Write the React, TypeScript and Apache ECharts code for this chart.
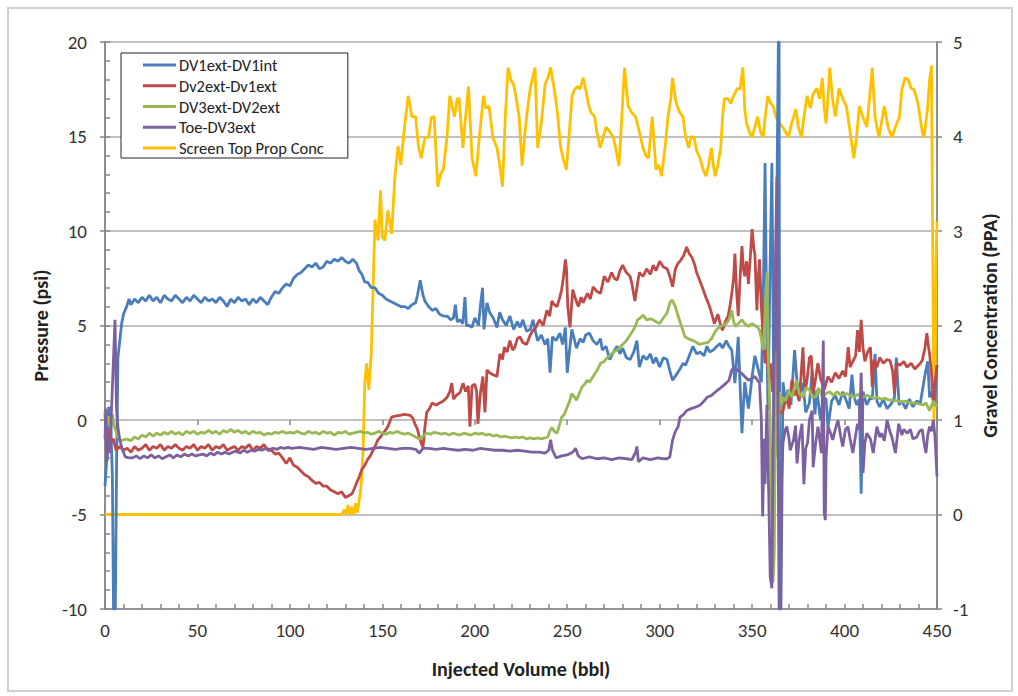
import React, { useEffect, useRef } from "react";
import * as echarts from "echarts";

// ---------- DATA ----------
const seriesNames = ["DV1ext-DV1int", "Dv2ext-Dv1ext", "DV3ext-DV2ext", "Toe-DV3ext", "Screen Top Prop Conc"];
const xTicks = { min: 0, max: 450, interval: 50 };
const leftTicks = { min: -10, max: 20, interval: 5 };
const rightTicks = { min: -1, max: 5, interval: 1 };

const dv1ext_dv1int: [number, number][] = [
  [0,-3.5],[1,-2.0],[2,0.7],[3,0.2],[4,-3],[4.6,-10],[5.6,-10],[6.3,-2],[7,3.3],[8,4.2],[9,5.1],[10,5.6],[11.7,6.0],[13,6.4],[14,6.1],[16,6.4],[18,6.2],[20,6.5],[22,6.3],[24,6.6],[26,6.3],[28,6.5],[30,6.2],[32,6.6],[34,6.4],[36,6.3],[38,6.6],[40,6.4],[42,6.2],[44,6.5],[46,6.3],[48,6.6],[50,6.4],[52,6.2],[54,6.5],[56,6.3],[58,6.4],[60,6.2],[62,6.5],[64,6.3],[66,6.0],[68,6.4],[70,6.2],[72,6.5],[74,6.3],[76,6.4],[78,6.1],[80,6.4],[82,6.2],[84,6.5],[86,6.3],[88,6.1],[90,6.5],[92,6.8],[94,6.7],[96,7.0],[98,7.2],[100,7.1],[102,7.5],[104,7.7],[106,7.8],[108,8.0],[110,8.2],[112,8.1],[114,8.3],[116,8.0],[118,8.1],[120,8.4],[122,8.3],[124,8.5],[126,8.4],[128,8.6],[130,8.4],[132,8.3],[134,8.5],[136,8.3],[137.5,7.9],[139,7.7],[140.5,7.3],[142,7.3],[144,7.0],[146,7.0],[148,6.7],[150,6.6],[152,6.4],[154,6.3],[156,6.2],[158,6.1],[160,6.0],[162,6.0],[164,5.9],[166,6.1],[168,6.2],[169,6.6],[170.5,7.4],[172,6.6],[173,6.3],[175,6.0],[177,5.8],[179,5.9],[181,5.6],[183,5.5],[185,5.5],[187,5.3],[188.5,5.4],[189.5,6.1],[190.5,5.2],[192,5.3],[193.5,5.1],[194.7,6.5],[195.5,5.0],[197,5.0],[198.5,4.9],[200,5.4],[202,5.0],[203,6.0],[204.2,7.0],[205,4.8],[206.6,6.2],[208,5.7],[210,5.4],[212,4.9],[213.5,5.7],[215,5.3],[217,5.0],[219,5.5],[221,4.8],[223,5.2],[224.5,4.9],[226,5.3],[228,4.7],[230,4.8],[231.5,5.3],[233,4.6],[234,4.2],[236,4.5],[238,4.0],[239.5,4.3],[240.7,2.5],[242,4.4],[244,4.2],[246,4.6],[247.5,4.0],[249,4.9],[250,2.5],[251.5,3.9],[252.5,4.8],[254,4.2],[255,3.8],[257,4.3],[258.6,4.1],[260,4.5],[262,4.6],[264,4.2],[266,4.0],[268,4.3],[269,3.7],[271,3.9],[273,3.2],[275,3.6],[277,3.9],[278.5,3.5],[280,3.8],[282,3.3],[284,3.2],[286,3.6],[287.7,4.2],[289,2.8],[291,3.4],[293,3.2],[295,3.5],[296.5,3.0],[298,3.3],[300,2.8],[302,3.3],[304,3.2],[305.5,2.6],[307,2.1],[309,2.4],[311,2.7],[312.6,3.0],[314,2.9],[316,3.4],[318,3.9],[320,3.5],[321.8,3.6],[324,3.4],[325.6,3.9],[327,3.6],[329,3.7],[331,3.9],[332.6,4.05],[334,3.8],[336,4.2],[337.5,3.9],[339,3.7],[340.7,1.95],[342.5,4.4],[344.5,-0.7],[346,2.0],[348,0.6],[350,2.3],[351.5,3.4],[353,2.8],[355,2.0],[356,6],[357,13.6],[358,4],[358.6,0.5],[359.7,8],[360.7,13.6],[361.5,4],[362,-3.3],[363.4,11.7],[364.2,20],[364.6,20],[365,-10],[365.6,-10],[366.7,2.0],[368,1.0],[369.4,1.6],[371,0.8],[373,3.7],[375,1.1],[377.5,1.95],[379,0.4],[381,0.9],[382.5,2.6],[384,0.3],[385,1.6],[387,0.0],[388.5,1.2],[390,1.1],[391,-0.4],[393,1.0],[395,1.3],[397,0.8],[399,1.5],[401,1.0],[402.5,0.6],[404,2.4],[405,1.3],[406.5,0.8],[408,1.1],[409,-3.9],[410,1.5],[412,0.8],[414,1.2],[415,1.1],[416.5,3.5],[417.5,1.0],[419,0.7],[421,1.1],[423,0.6],[425.6,0.9],[427,1.2],[428,3.3],[429.5,0.8],[431,1.0],[433,0.6],[435,1.1],[437,0.7],[439,1.0],[441,0.9],[443.5,2.4],[445,3.1],[446,1.2],[447,1.5],[448.5,0.8],[450,2.9]
];

const dv2ext_dv1ext: [number, number][] = [
  [0,0.4],[1,-1.75],[2,-0.5],[3,-1.2],[4.5,-1.0],[6,-1.6],[8,-1.4],[10,-1.6],[12,-1.5],[14,-1.7],[16,-1.4],[18,-1.6],[20,-1.5],[22,-1.3],[24,-1.6],[26,-1.4],[28,-1.5],[30,-1.3],[32,-1.6],[34,-1.4],[36,-1.5],[38,-1.3],[40,-1.5],[42,-1.6],[44,-1.4],[46,-1.5],[48,-1.3],[50,-1.6],[52,-1.4],[54,-1.5],[56,-1.3],[58,-1.6],[60,-1.4],[62,-1.5],[64,-1.3],[66,-1.6],[68,-1.5],[70,-1.4],[72,-1.6],[74,-1.4],[76,-1.5],[78,-1.3],[80,-1.6],[82,-1.4],[84,-1.5],[86,-1.3],[88,-1.6],[90,-1.6],[92,-1.8],[94,-1.75],[96,-2.0],[98,-2.3],[100,-2.0],[102,-2.4],[104,-2.5],[106,-2.7],[108,-2.9],[110,-3.0],[112,-3.2],[114,-3.35],[116,-3.3],[118,-3.5],[120,-3.5],[122,-3.7],[124,-3.8],[126,-3.9],[128,-3.8],[130,-4.1],[132,-4.0],[133.6,-3.9],[135,-3.6],[136,-3.35],[137.5,-3.0],[139,-2.6],[140.5,-2.4],[142,-2.1],[143.5,-1.9],[145,-1.6],[146.5,-1.3],[147.6,-1.05],[149,-0.9],[150.5,-0.7],[152,-0.5],[153,-0.35],[155,0.15],[157,0.2],[159.5,0.25],[162,0.3],[165,0.25],[166.5,0.1],[167.6,-0.2],[169,-0.5],[170,-0.9],[171,-1.2],[172,-1.45],[173,-0.4],[174,0.4],[175.5,0.6],[177,0.9],[179,0.8],[181,0.9],[183,1.0],[185,1.2],[186.5,1.5],[187.6,1.95],[188.5,1.1],[190,1.3],[192,1.45],[193.7,1.95],[195,1.5],[196.5,1.8],[197.4,-0.35],[198.5,1.8],[200,1.9],[201,1.5],[201.7,-0.2],[203,1.4],[204.4,2.3],[205.5,0.4],[206.6,2.65],[208,2.5],[210,2.4],[212,2.3],[213.6,3.5],[215,3.2],[216,3.85],[217.5,3.6],[219,4.2],[220.5,3.7],[221.7,3.85],[223,4.3],[224.5,4.4],[226,4.1],[228,4.0],[230,4.5],[231.5,4.75],[233,4.9],[235,5.3],[237,5.0],[239,5.8],[240.5,5.5],[241.7,6.3],[243,6.1],[244.5,6.0],[246,6.5],[247,6.9],[248,7.6],[249,8.5],[249.6,8.0],[250.3,6],[251.5,4.9],[253,6.9],[254.5,6.4],[256,6.0],[257.5,6.5],[258.6,6.2],[260,6.5],[261,6.7],[262.5,6.4],[264,7.05],[266,6.8],[268,6.7],[270,7.6],[272,7.3],[274,7.8],[275.5,7.5],[277,7.4],[278.5,7.9],[280,8.2],[282,7.8],[284,7.6],[285,7.2],[286.6,6.3],[288,7.2],[289,7.8],[291,7.6],[293,8.0],[295,7.7],[296.5,8.2],[298,7.9],[300,8.4],[302,8.1],[304,8.0],[305.5,7.6],[307,7.05],[308.5,8.0],[310,8.3],[311,8.4],[313,8.7],[314.6,9.15],[316,8.8],[317.5,8.6],[319,8.2],[320,7.8],[322,7.3],[323.5,6.9],[325,6.5],[327,6.0],[328.5,5.5],[329.6,5.1],[331.5,5.6],[333,5.0],[334,4.75],[335.5,5.2],[337,5.5],[338,6.0],[339,6.7],[340,7.5],[340.7,8.8],[341.5,7.0],[342.5,5.5],[343.5,7.5],[344.5,9.2],[345.3,8.0],[346,7.6],[347,8.4],[348,7.2],[349,8.6],[350,10.1],[351,9.0],[351.5,8.8],[352.6,5.8],[353.3,7.5],[354,8.5],[355,6.0],[356,4.4],[357,3.0],[358,3.7],[359,2.0],[360,3.0],[361,1.5],[362,2.5],[363,0.5],[364,1.8],[365,0.3],[366.7,0.5],[368,1.0],[368.8,1.2],[370,0.6],[371.5,2.1],[373,1.3],[374,1.6],[375.5,1.0],[377.5,3.85],[378.5,1.5],[379.6,2.0],[381,3.3],[382,3.4],[383,1.4],[384.5,2.3],[385.6,3.0],[387,2.2],[389,1.6],[391,2.3],[393,2.0],[395,2.5],[397,2.2],[399,2.6],[400.5,2.3],[402,3.85],[403,2.8],[404.5,3.1],[406,3.4],[407,4.75],[408,3.6],[409,5.3],[410,3.8],[411,3.1],[412.5,3.6],[414,3.85],[415,1.75],[416,3.2],[417.5,2.8],[419,3.3],[421,3.0],[423,3.2],[424.6,3.15],[426,2.6],[427,1.4],[428,3.0],[430,2.9],[432,3.1],[433.7,2.8],[436,3.0],[438,2.7],[439,2.8],[441,3.0],[442,3.15],[443.5,3.8],[444.5,4.6],[445.5,3.8],[446,3.5],[447,2.5],[448,1.0],[449,2.0],[450,2.9]
];

const dv3ext_dv2ext: [number, number][] = [
  [0,0.5],[1,-0.3],[2,0.2],[3,-0.5],[4,0.3],[5,-0.35],[6,-0.6],[7,-0.9],[8.5,-1.1],[10,-1.05],[12,-1.0],[14,-1.1],[16,-0.9],[18,-1.0],[20,-0.8],[22,-0.9],[24,-0.7],[26,-0.85],[28,-0.7],[30,-0.8],[32,-0.65],[34,-0.75],[36,-0.6],[38,-0.75],[40,-0.65],[42,-0.8],[44,-0.6],[46,-0.7],[48,-0.6],[50,-0.75],[52,-0.65],[54,-0.7],[56,-0.55],[58,-0.7],[60,-0.6],[62,-0.75],[64,-0.55],[66,-0.65],[68,-0.5],[70,-0.65],[72,-0.55],[74,-0.7],[76,-0.6],[78,-0.75],[80,-0.6],[82,-0.7],[84,-0.65],[86,-0.8],[88,-0.7],[90,-0.75],[92,-0.65],[94,-0.7],[96,-0.6],[98,-0.7],[100,-0.65],[102,-0.7],[104,-0.6],[106,-0.7],[108,-0.75],[110,-0.6],[112,-0.7],[114,-0.65],[116,-0.75],[118,-0.6],[120,-0.7],[122,-0.65],[124,-0.8],[126,-0.65],[128,-0.7],[130,-0.6],[132,-0.75],[134,-0.7],[136,-0.65],[138,-0.6],[140,-0.7],[142,-0.65],[144,-0.75],[146,-0.7],[148,-0.6],[150,-0.7],[152,-0.75],[154,-0.65],[156,-0.7],[158,-0.6],[160,-0.7],[162,-0.75],[164,-0.7],[166,-0.8],[168,-0.9],[170,-1.0],[172,-0.85],[174,-0.7],[176,-0.75],[178,-0.65],[180,-0.7],[182,-0.75],[184,-0.7],[186,-0.8],[188,-0.7],[190,-0.75],[192,-0.8],[194,-0.7],[196,-0.75],[198,-0.8],[200,-0.7],[202,-0.75],[204,-0.7],[206,-0.8],[208,-0.75],[210,-0.85],[212,-0.8],[214,-0.9],[216,-0.85],[218,-0.9],[220,-0.95],[222,-0.9],[224,-0.95],[226,-0.9],[228,-1.0],[230,-0.95],[232,-1.0],[234,-0.95],[236,-1.0],[238,-0.95],[239.5,-0.9],[240.5,-0.6],[241.7,-0.4],[243,-0.6],[244.5,-0.7],[246,-0.2],[247,0.15],[248.5,0.3],[250,0.7],[251,0.9],[252.5,1.4],[254,1.2],[255,1.05],[256.5,1.4],[258,1.75],[259.5,1.9],[260.7,2.1],[262,2.0],[264,2.3],[266,2.6],[268,3.0],[270,3.1],[271.7,3.3],[273,3.4],[275,3.6],[277,3.7],[278.5,3.85],[280,4.0],[282,4.2],[284,4.5],[285.7,4.75],[287,5.0],[288,5.3],[289.5,5.4],[291,5.55],[293,5.3],[295,5.35],[296.5,5.3],[298,5.2],[300,5.1],[302,5.4],[304,5.66],[305.5,6.2],[306.7,6.35],[308.5,6.0],[310,5.5],[312,4.9],[313.7,4.4],[315.5,4.3],[318,4.2],[320,4.1],[321.5,4.0],[323.5,4.05],[326,4.1],[328,4.3],[329.6,4.6],[331,4.8],[332.6,4.95],[334,5.0],[336,5.1],[337.5,5.3],[339,5.8],[340,5.2],[341,4.95],[342.5,5.1],[344.5,5.3],[346,5.1],[348,4.95],[350,5.1],[351.5,5.0],[353,4.9],[354,4.75],[355,4.3],[356,3.7],[357,5.5],[358,7.8],[358.8,3.0],[359.6,0.5],[360.5,-4],[361.3,-8.6],[362,-7],[362.8,3.7],[363.5,0.5],[364,-2],[364.8,1.5],[366,0.8],[366.7,1.2],[368,1.0],[370,1.55],[371.5,1.2],[374,2.1],[375.5,1.4],[377.5,1.2],[379,1.7],[381,1.6],[382.5,1.2],[384.6,1.25],[386,1.7],[388,1.2],[390,1.4],[392,1.5],[394,1.3],[396,1.5],[398,1.3],[399,1.35],[401,1.4],[403,1.3],[405,1.2],[407,1.35],[408,1.3],[410,1.2],[412,1.3],[414,1.25],[416,1.15],[417.5,1.2],[420,1.1],[422,1.15],[424,1.05],[426.6,1.05],[429,1.0],[431,0.95],[433,1.0],[435.6,0.9],[438,0.9],[440,0.85],[442.7,0.8],[444,0.9],[446,0.5],[448,1.0],[450,0.7]
];

const toe_dv3ext: [number, number][] = [
  [0,-1.0],[0.5,0.6],[1,-2.2],[2,-1.0],[2.7,-1.75],[3.5,0.5],[4.5,3.0],[5.4,5.3],[6.2,0.7],[7,-0.4],[8,-1.05],[9.5,-1.6],[11,-1.95],[13,-2.0],[15,-2.0],[17,-1.9],[19,-2.05],[21,-1.9],[23,-2.0],[25,-1.85],[27,-2.0],[29,-1.9],[31,-2.05],[33,-1.95],[35,-1.85],[37,-2.0],[39,-1.85],[41,-1.95],[43,-1.8],[45,-1.9],[47,-1.8],[49,-1.9],[51,-1.85],[53,-1.8],[55,-1.9],[57,-1.75],[59,-1.85],[61,-1.7],[63,-1.8],[65,-1.7],[67,-1.8],[69,-1.7],[71,-1.65],[73,-1.75],[75,-1.6],[77,-1.7],[79,-1.6],[81,-1.65],[83,-1.55],[85,-1.6],[87,-1.5],[89,-1.55],[91,-1.5],[93,-1.55],[95,-1.45],[97,-1.5],[99,-1.45],[101,-1.5],[105,-1.45],[109,-1.5],[113,-1.55],[117,-1.45],[121,-1.5],[125,-1.55],[129,-1.5],[133,-1.45],[137,-1.5],[141,-1.55],[145,-1.5],[149,-1.45],[153,-1.5],[157,-1.55],[161,-1.5],[165,-1.5],[168,-1.55],[170,-1.75],[172,-1.5],[175,-1.5],[179,-1.55],[183,-1.5],[187,-1.55],[191,-1.6],[195,-1.55],[199,-1.6],[203,-1.5],[207,-1.55],[211,-1.6],[215,-1.6],[219,-1.65],[223,-1.6],[227,-1.65],[231,-1.7],[235,-1.7],[238,-1.75],[240,-1.6],[241,-1.05],[242,-1.6],[244,-2.0],[247,-1.9],[250,-1.85],[253,-1.7],[254.5,-1.5],[256,-1.9],[258,-2.05],[262,-1.95],[266,-2.05],[270,-2.0],[274,-2.1],[278,-2.0],[282,-2.05],[285,-2.1],[287,-1.7],[287.7,-1.4],[288.5,-2.2],[291,-2.0],[295,-2.1],[299,-2.0],[302,-2.05],[304,-2.05],[305.5,-1.95],[307,-1.05],[308.5,-0.6],[310,-0.35],[311,0.15],[313,0.3],[314.6,0.5],[317,0.6],[320,0.7],[322,0.8],[324,1.0],[325.6,1.2],[328,1.3],[331,1.55],[333,1.7],[336,1.95],[337.5,2.1],[339,2.65],[340.7,2.8],[342.5,2.6],[344.5,2.45],[346,2.3],[348,2.1],[350,2.2],[351.5,2.3],[353,2.1],[354,1.95],[355,0],[355.7,-5.1],[356.5,-1],[357,-3.4],[358,0.8],[359,-4],[359.8,-8.3],[360.7,-8.9],[361.3,-2],[362,3.7],[362.7,9],[363.4,12.85],[364,0],[364.6,-10],[365.3,-10],[366,-3],[366.7,-1.2],[368,-0.5],[368.8,-0.35],[370,-1.0],[370.6,-1.6],[372.4,-1.05],[373.5,-0.3],[374.3,-2.3],[375.5,-1.0],[377,-0.2],[378,-3.4],[379,-1.5],[380,-1.2],[381,0.0],[382.5,0.5],[383,-2.5],[384.4,-1.2],[385.6,-0.35],[386.5,-1.0],[387.5,-1.75],[388.5,4.2],[389,-4.9],[389.6,-5.3],[390,-2],[391,-0.35],[392.5,-0.7],[393.6,-1.05],[395,-0.5],[396.4,0.0],[398,-0.9],[399,-1.4],[400.5,-0.5],[401.8,-0.35],[403,-1.0],[404.5,-1.75],[406,-0.8],[407,-0.2],[408,-0.5],[409,2.5],[410,-2.8],[411,-1.2],[412,-0.7],[414,-1.0],[415.5,-1.75],[417.5,-0.35],[419,-0.9],[420,-0.7],[421.5,-1.1],[423,0.0],[424.5,-0.6],[425.6,-0.9],[427.5,-1.75],[429.3,-0.2],[431,-0.8],[432,-0.5],[434,-0.7],[435.6,-0.5],[437,-1.0],[439,-0.9],[440.5,-0.6],[442,-0.5],[443,-1.2],[444,-1.75],[445,-0.8],[446,-0.35],[447,-0.6],[448,0.0],[449,-1.0],[450,-3.0]
];

const screenTopPropConc: [number, number][] = [
  [0,0],[128,0],[129.5,0.05],[130.5,0],[131.5,0.1],[132.5,0],[133.5,0.08],[134.5,0],[135.5,0.12],[136.5,0.02],[137.5,0.15],[138.5,0.3],[139.6,0.68],[140.5,1.39],[141.5,1.6],[142.7,1.32],[144,1.7],[145,2.38],[146,3.12],[147.7,2.9],[149,3.43],[150,2.94],[151.4,2.9],[153,3.22],[155,2.97],[156.8,3.57],[158.5,3.9],[160,3.7],[162,4.1],[164,4.43],[166,4.21],[168,4.21],[169.5,3.9],[171,3.77],[173,3.99],[175,3.99],[176.5,4.2],[178,4.21],[180,3.47],[181.5,3.6],[183,3.65],[185,4.0],[186.5,4.43],[188,4.3],[189,4.21],[190.5,4.4],[191.5,4.4],[193.6,3.88],[195,4.2],[196.6,4.53],[198.5,3.77],[200.6,3.58],[202.5,4.0],[204.7,4.43],[206,4.3],[207.7,4.32],[209.8,3.99],[212,3.88],[213.5,3.7],[215,3.47],[216.5,4.2],[218,4.73],[219.5,4.6],[221,4.55],[222.5,4.4],[224,4.21],[225.6,3.69],[227,4.0],[228,4.21],[230,4.51],[232.6,4.73],[234,3.88],[236,4.14],[238,4.55],[239.5,4.62],[241,4.73],[243,4.5],[244.5,4.29],[246.5,3.88],[248,3.75],[249.5,3.65],[251,4.0],[252.6,4.43],[254,4.5],[255.6,4.53],[257,4.5],[258.6,4.62],[260,4.5],[261.7,4.32],[263,4.25],[264.8,4.21],[266,4.05],[267.8,3.88],[269.5,4.0],[271,4.1],[273,4.05],[275,3.99],[276.5,3.85],[278,3.69],[279.5,4.2],[281,4.73],[283,4.32],[285,4.25],[287,4.21],[289,4.05],[291,3.88],[292.5,3.8],[294,3.77],[296,4.21],[298,3.65],[299.5,3.7],[301,3.58],[303,3.9],[304.5,4.21],[306,4.4],[307,4.62],[308.5,4.4],[309.5,4.32],[311,4.25],[312.6,4.21],[314,4.0],[315.7,3.88],[317,4.0],[318.6,3.99],[320,3.85],[321.8,3.77],[323.5,3.65],[325,3.58],[326.5,3.7],[328,3.88],[329,3.7],[330,3.58],[331.5,3.7],[333,3.88],[334,4.2],[335,4.4],[337,4.4],[338.5,4.35],[340,4.43],[342,4.51],[343.5,4.5],[345,4.73],[346,4.3],[347,4.14],[348.5,4.05],[350,3.99],[351.5,4.1],[353,4.21],[354.5,4.05],[356,3.99],[357,4.2],[358.5,4.43],[360,4.35],[361.5,4.32],[363,4.2],[364.5,4.15],[366.6,4.1],[368,4.05],[369.6,3.99],[371.5,4.15],[373.7,4.29],[375,4.1],[376.7,3.99],[378,4.2],[379.7,4.43],[381.5,4.3],[383,4.45],[385,4.51],[386.5,4.4],[388,4.62],[389,4.3],[390,4.14],[391,4.4],[392,4.73],[393.5,4.4],[395,4.21],[396,4.35],[397,4.51],[399,4.4],[401,4.32],[403,4.05],[405,3.77],[406.5,4.0],[408,4.32],[410,4.2],[412,4.1],[413.5,4.4],[415,4.73],[416.5,4.2],[418.6,3.99],[420,4.15],[421.5,4.32],[423.5,4.1],[425.6,3.99],[427.5,4.1],[429.7,4.21],[431,4.5],[432.7,4.62],[434.5,4.6],[436,4.51],[437.5,4.5],[438.6,4.43],[439.7,4.35],[440.8,4.21],[442,4.05],[443,3.99],[444,4.15],[445,4.32],[446,4.6],[447,4.75],[447.8,2.5],[448.3,1.0],[449,1.5],[449.5,2.7],[450,3.1]
];

const colors = ["#4a7ebb", "#be4b48", "#98b954", "#7d60a0", "#ffc000"];

const FONT = "Carlito, Calibri, 'Open Sans', sans-serif";

export default function App() {
  const ref = useRef<HTMLDivElement>(null);

  useEffect(() => {
    if (!ref.current) return;
    const chart = echarts.init(ref.current, undefined, { renderer: "svg" });
    const axisLineStyle = { color: "#868686", width: 1.5 };
    const labelStyle = { color: "#333", fontSize: 19, fontFamily: FONT };
    const nameStyle = { color: "#222", fontSize: 20, fontWeight: "bold" as const, fontFamily: FONT };

    const allData = [dv1ext_dv1int, dv2ext_dv1ext, dv3ext_dv2ext, toe_dv3ext];
    const lineSeries: any[] = allData.map((d, i) => ({
      name: seriesNames[i],
      type: "line",
      data: d,
      xAxisIndex: 0,
      yAxisIndex: 0,
      showSymbol: false,
      symbol: "none",
      clip: true,
      lineStyle: { color: colors[i], width: 2.8 },
      itemStyle: { color: colors[i] },
      z: 3 + i,
    }));
    const yellow = {
      name: seriesNames[4],
      type: "line",
      data: screenTopPropConc,
      xAxisIndex: 0,
      yAxisIndex: 1,
      showSymbol: false,
      symbol: "none",
      clip: true,
      lineStyle: { color: colors[4], width: 2.8 },
      itemStyle: { color: colors[4] },
      z: 2,
    };

    chart.setOption({
      animation: false,
      backgroundColor: "#fff",
      grid: {
        left: 105,
        right: 81,
        top: 42,
        bottom: 87,
        show: true,
        borderColor: "#868686",
        borderWidth: 1.5,
        backgroundColor: "transparent",
      },
      legend: {
        orient: "vertical",
        left: 121,
        top: 53,
        padding: [3, 24, 1, 22],
        itemGap: 2.75,
        itemWidth: 33,
        itemHeight: 3,
        icon: "rect",
        backgroundColor: "#fff",
        borderColor: "#222",
        borderWidth: 1,
        textStyle: { fontSize: 16.5, fontFamily: FONT, color: "#222", lineHeight: 18, padding: [0, 0, 0, -2] },
        data: [seriesNames[0], seriesNames[1], seriesNames[2], seriesNames[3], seriesNames[4]],
        z: 20,
      },
      graphic: [
        {
          type: "rect",
          shape: { x: 8, y: 8, width: 1004, height: 683 },
          style: { fill: "none", stroke: "#d0d0d0", lineWidth: 2 },
          silent: true,
          z: 0,
        },
      ],
      xAxis: [
        {
          type: "value",
          min: xTicks.min,
          max: xTicks.max,
          interval: xTicks.interval,
          position: "bottom",
          name: "Injected Volume (bbl)",
          nameLocation: "middle",
          nameGap: 50,
          nameTextStyle: nameStyle,
          axisLine: { show: true, onZero: false, lineStyle: axisLineStyle },
          axisTick: { show: true, inside: true, length: 5, lineStyle: axisLineStyle },
          minorTick: { show: true, splitNumber: 5, length: 5, lineStyle: axisLineStyle },
          axisLabel: { ...labelStyle, margin: 12 },
          splitLine: { show: false },
        },
        {
          type: "value",
          min: xTicks.min,
          max: xTicks.max,
          interval: xTicks.interval,
          position: "bottom",
          axisLine: { show: false },
          axisTick: { show: true, inside: false, length: 5, lineStyle: axisLineStyle },
          axisLabel: { show: false },
          splitLine: { show: false },
        },
      ],
      yAxis: [
        {
          type: "value",
          min: leftTicks.min,
          max: leftTicks.max,
          interval: leftTicks.interval,
          position: "left",
          name: "Pressure (psi)",
          nameLocation: "middle",
          nameGap: 47,
          nameTextStyle: nameStyle,
          axisLine: { show: true, onZero: false, lineStyle: axisLineStyle },
          axisTick: { show: true, inside: true, length: 5, lineStyle: axisLineStyle },
          minorTick: { show: true, splitNumber: 5, length: 5, lineStyle: axisLineStyle },
          axisLabel: { ...labelStyle, margin: 18 },
          splitLine: { show: true, lineStyle: { color: "#c0c0c0", width: 2 } },
        },
        {
          type: "value",
          min: rightTicks.min,
          max: rightTicks.max,
          interval: rightTicks.interval,
          position: "right",
          name: "Gravel Concentration (PPA)",
          nameLocation: "middle",
          nameGap: 43,
          nameRotate: 90,
          nameTextStyle: nameStyle,
          axisLine: { show: true, onZero: false, lineStyle: axisLineStyle },
          axisTick: { show: true, inside: false, length: 5, lineStyle: axisLineStyle },
          axisLabel: { ...labelStyle, margin: 16 },
          splitLine: { show: false },
        },
        {
          type: "value",
          min: leftTicks.min,
          max: leftTicks.max,
          interval: leftTicks.interval,
          position: "left",
          axisLine: { show: false },
          axisTick: { show: true, inside: false, length: 5, lineStyle: axisLineStyle },
          axisLabel: { show: false },
          splitLine: { show: false },
        },
      ],
      series: [yellow, ...lineSeries],
    });

    return () => chart.dispose();
  }, []);

  return (
    <div
      ref={ref}
      style={{ position: "absolute", left: 0, top: 0, width: 1018, height: 696, background: "#fff" }}
    />
  );
}
